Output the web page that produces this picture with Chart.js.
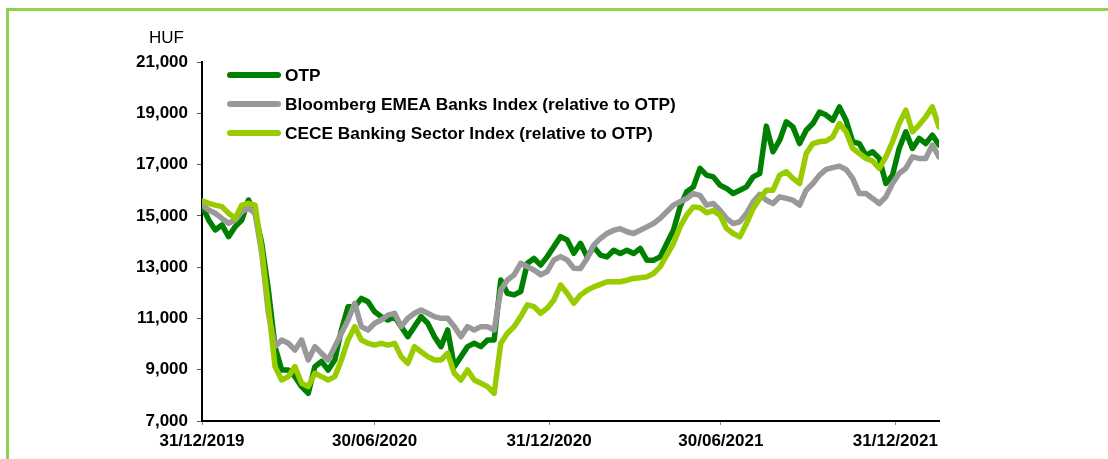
<!DOCTYPE html>
<html>
<head>
<meta charset="utf-8">
<script src="https://cdn.jsdelivr.net/npm/chart.js@4.4.1/dist/chart.umd.min.js"></script>
<style>
  html, body { margin: 0; padding: 0; background: #fff; }
  #wrap { width: 1108px; height: 459px; }
</style>
</head>
<body>
<div id="wrap"><canvas id="c" width="1108" height="459"></canvas></div>
<script>
// weekly closes, 31/12/2019 .. mid Feb 2022 (day offsets below)
var otp = [15400,14840,14450,14650,14190,14580,14840,15620,15100,13930,
  12110,9900,8990,8990,8730,8340,8080,9120,9320,8990,
  9380,10550,11460,11460,11780,11650,11260,11070,10940,11070,
  10680,10290,10680,11070,10810,10290,9900,10550,9120,9510,
  9900,10030,9900,10160,10160,12500,11980,11920,12050,13150,
  13340,13080,13410,13800,14190,14060,13540,13930,13400,13790,
  13470,13400,13660,13530,13660,13530,13730,13270,13270,13400,
  13920,14440,15350,15940,16130,16850,16590,16520,16200,16070,
  15870,16000,16130,16520,16650,18500,17500,17950,18670,18470,
  17820,18340,18600,19050,18930,18730,19250,18730,17890,17820,
  17360,17500,17240,16260,16590,17630,18280,17630,18020,17820,
  18150,17760];

var bloomberg = [15420,15230,15100,14900,14710,14840,15160,15300,15100,13540,
  11200,9900,10160,10030,9770,10160,9380,9900,9640,9380,
  9900,10420,10940,11590,10680,10550,10810,10940,11130,11200,
  10680,11005,11200,11330,11200,11070,11005,11005,10680,10290,
  10680,10550,10680,10680,10550,12110,12500,12700,13150,13020,
  12890,12700,12830,13280,13410,13280,12960,12950,13340,13860,
  14120,14310,14440,14500,14380,14310,14440,14570,14700,14900,
  15160,15420,15550,15680,15870,15800,15420,15480,15220,14900,
  14700,14770,15090,15550,15840,15610,15480,15740,15680,15610,
  15420,16000,16260,16590,16810,16880,16940,16810,16460,15870,
  15870,15680,15480,15740,16260,16650,16850,17300,17240,17240,
  17760,17300];

var cece = [15590,15490,15420,15360,15100,14900,15420,15490,15420,13670,
  11460,9120,8600,8730,9120,8470,8340,8860,8730,8600,
  8730,9380,10160,10680,10160,10030,9960,10030,9960,10030,
  9510,9250,9900,9700,9510,9380,9380,9640,8860,8600,
  8990,8600,8470,8340,8080,10030,10420,10680,11070,11530,
  11460,11200,11400,11720,12300,11980,11590,11910,12100,12230,
  12330,12430,12430,12430,12490,12560,12590,12620,12750,13010,
  13470,13920,14570,15030,15350,15320,15120,15200,15030,14510,
  14310,14180,14700,15280,15680,16000,16000,16590,16720,16460,
  16260,17430,17820,17890,17920,18080,18600,18280,17630,17430,
  17240,17140,16850,17300,17890,18600,19120,18280,18540,18860,
  19250,18470];

var tickDays = [0, 182, 366, 547, 731];
var tickLabels = ['31/12/2019', '30/06/2020', '31/12/2020', '30/06/2021', '31/12/2021'];
var seriesNames = ['OTP', 'Bloomberg EMEA Banks Index (relative to OTP)', 'CECE Banking Sector Index (relative to OTP)'];
var seriesColors = ['#008000', '#999999', '#99CC00'];

var days = otp.map(function(v, i) { return i * 7; });

function pts(arr) {
  return arr.map(function(v, i) { return { x: days[i], y: v }; });
}

var FONT = 'Arial, "Liberation Sans", sans-serif';

// light green frame + HUF label + custom legend
var decor = {
  id: 'decor',
  beforeDraw: function(chart) {
    var c = chart.ctx;
    c.save();
    c.fillStyle = '#92D050';
    c.fillRect(6, 8, 1102, 3);
    c.fillRect(6, 8, 3, 451);
    c.restore();
  },
  afterDraw: function(chart) {
    var c = chart.ctx;
    c.save();
    c.fillStyle = '#000';
    c.font = '17px ' + FONT;
    c.textAlign = 'right';
    c.textBaseline = 'middle';
    c.fillText('HUF', 184, 38);

    c.font = 'bold 17.3px ' + FONT;
    c.textAlign = 'left';
    for (var i = 0; i < seriesNames.length; i++) {
      var y = 75 + 29 * i;
      c.strokeStyle = seriesColors[i];
      c.lineWidth = 6;
      c.lineCap = 'round';
      c.beginPath();
      c.moveTo(230, y);
      c.lineTo(278, y);
      c.stroke();
      c.fillText(seriesNames[i], 285, y + 1);
    }
    c.restore();
  }
};

var dsOrder = [3, 2, 1]; // CECE drawn on top, OTP at the bottom
var sets = [otp, bloomberg, cece].map(function(arr, i) {
  return {
    label: seriesNames[i],
    data: pts(arr),
    borderColor: seriesColors[i],
    backgroundColor: seriesColors[i],
    borderWidth: 5.5,
    pointRadius: 0,
    tension: 0,
    borderJoinStyle: 'round',
    borderCapStyle: 'round',
    order: dsOrder[i]
  };
});

new Chart(document.getElementById('c'), {
  type: 'line',
  data: { datasets: sets },
  plugins: [decor],
  options: {
    responsive: false,
    animation: false,
    devicePixelRatio: 1,
    layout: { padding: { left: 0, right: 169, top: 62, bottom: 0 } },
    plugins: {
      legend: { display: false },
      tooltip: { enabled: false }
    },
    scales: {
      x: {
        type: 'linear',
        min: 0,
        max: 777,
        afterBuildTicks: function(scale) {
          scale.ticks = tickDays.map(function(d) { return { value: d }; });
        },
        afterFit: function(scale) { scale.height = 38; },
        ticks: {
          autoSkip: false,
          maxRotation: 0,
          padding: 6,
          color: '#000',
          font: { family: FONT, size: 17, weight: 'bold' },
          callback: function(v) {
            var i = tickDays.indexOf(v);
            return i >= 0 ? tickLabels[i] : '';
          }
        },
        grid: { drawOnChartArea: false, drawTicks: true, tickLength: 4, color: '#888', lineWidth: 1 },
        border: { display: true, color: '#000', width: 2 }
      },
      y: {
        min: 7000,
        max: 21000,
        afterFit: function(scale) { scale.width = 202; },
        ticks: {
          stepSize: 2000,
          padding: 9,
          color: '#000',
          font: { family: FONT, size: 17, weight: 'bold' },
          callback: function(v) { return v.toLocaleString('en-US'); }
        },
        grid: { drawOnChartArea: false, drawTicks: true, tickLength: 5, color: '#555', lineWidth: 1 },
        border: { display: true, color: '#000', width: 2 }
      }
    }
  }
});
</script>
</body>
</html>
